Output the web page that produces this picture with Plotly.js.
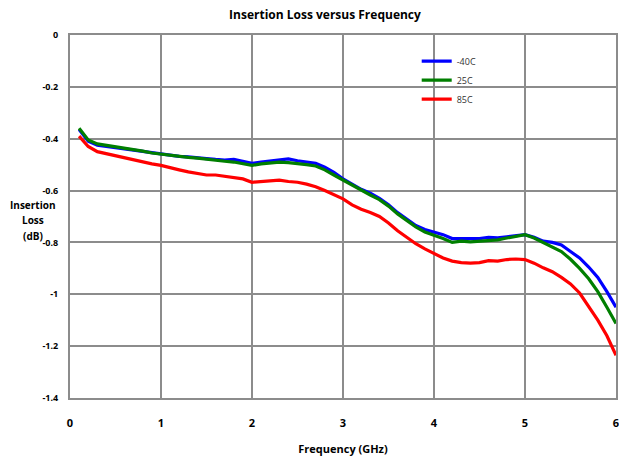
<!DOCTYPE html>
<html>
<head>
<meta charset="utf-8">
<script src="https://cdn.plot.ly/plotly-3.0.1.min.js"></script>
<style>html,body{margin:0;padding:0;background:#fff;}#chart{width:619px;height:460px;}</style>
</head>
<body>
<div id="chart"></div>
<script>
const freqGHz = [0.1,0.2,0.3,0.4,0.5,0.6,0.7,0.8,0.9,1.0,1.1,1.2,1.3,1.4,1.5,1.6,1.7,1.8,1.9,2.0,2.1,2.2,2.3,2.4,2.5,2.6,2.7,2.8,2.9,3.0,3.1,3.2,3.3,3.4,3.5,3.6,3.7,3.8,3.9,4.0,4.1,4.2,4.3,4.4,4.5,4.6,4.7,4.8,4.9,5.0,5.1,5.2,5.3,5.4,5.5,5.6,5.7,5.8,5.9,6.0];

const lossM40C = [-0.365,-0.41,-0.425,-0.43,-0.435,-0.44,-0.445,-0.45,-0.455,-0.46,-0.463,-0.468,-0.47,-0.472,-0.477,-0.48,-0.482,-0.48,-0.488,-0.495,-0.49,-0.485,-0.482,-0.478,-0.485,-0.49,-0.495,-0.51,-0.53,-0.555,-0.575,-0.595,-0.61,-0.63,-0.655,-0.685,-0.71,-0.735,-0.75,-0.76,-0.77,-0.785,-0.785,-0.787,-0.785,-0.78,-0.782,-0.778,-0.775,-0.77,-0.78,-0.795,-0.80,-0.81,-0.835,-0.86,-0.895,-0.935,-0.99,-1.05];

const loss25C = [-0.36,-0.405,-0.42,-0.425,-0.43,-0.437,-0.442,-0.448,-0.455,-0.46,-0.465,-0.468,-0.472,-0.475,-0.48,-0.483,-0.487,-0.49,-0.495,-0.503,-0.497,-0.493,-0.49,-0.492,-0.495,-0.5,-0.505,-0.52,-0.54,-0.56,-0.58,-0.6,-0.617,-0.635,-0.66,-0.69,-0.715,-0.74,-0.76,-0.772,-0.785,-0.8,-0.795,-0.798,-0.795,-0.79,-0.79,-0.783,-0.775,-0.77,-0.783,-0.8,-0.815,-0.835,-0.865,-0.9,-0.94,-0.99,-1.05,-1.113];

const loss85C = [-0.39,-0.43,-0.45,-0.458,-0.465,-0.475,-0.482,-0.49,-0.497,-0.503,-0.51,-0.52,-0.528,-0.535,-0.54,-0.54,-0.545,-0.548,-0.555,-0.568,-0.566,-0.565,-0.56,-0.565,-0.568,-0.575,-0.585,-0.6,-0.615,-0.632,-0.655,-0.672,-0.685,-0.7,-0.725,-0.755,-0.78,-0.805,-0.825,-0.843,-0.86,-0.872,-0.878,-0.88,-0.878,-0.87,-0.872,-0.866,-0.864,-0.866,-0.88,-0.898,-0.913,-0.935,-0.96,-0.995,-1.045,-1.1,-1.16,-1.235];

const seriesNames = ['-40C','25C','85C'];
const seriesColors = ['#0000ff','#007f00','#ff0000'];
const xTickVals = [0,1,2,3,4,5,6];
const yTickVals = [0,-0.2,-0.4,-0.6,-0.8,-1,-1.2,-1.4];
const yTickText = ['0','-0.2','-0.4','-0.6','-0.8','-1','-1.2','-1.4'];
const yTitleLines = ['Insertion','Loss','(dB)'];

const ys = [lossM40C, loss25C, loss85C];
const traces = ys.map((y,i)=>({
  x: freqGHz, y: y, type:'scatter', mode:'lines', name: seriesNames[i],
  line:{color: seriesColors[i], width:3.2}
}));

const font = "'Open Sans', 'Liberation Sans', sans-serif";
const layout = {
  width:619, height:460,
  margin:{l:70, r:3, t:35, b:62},
  paper_bgcolor:'#fff', plot_bgcolor:'#fff',
  showlegend:true,
  title:{text:'<b>Insertion Loss versus Frequency</b>', font:{family:font, size:12, color:'#000'}, x:0.525, xanchor:'center', y:0.968, yanchor:'middle'},
  xaxis:{range:[0,6], tickvals:xTickVals, ticktext:xTickVals.map(String),
    showgrid:true, gridcolor:'#8c8c8c', gridwidth:2, zeroline:false,
    showline:true, linecolor:'#8c8c8c', linewidth:2, mirror:true,
    ticks:'outside', ticklen:14, tickcolor:'rgba(0,0,0,0)', ticklabeloverflow:'allow',
    tickfont:{family:font, size:11, color:'#000', weight:'bold'},
    title:{text:'<b>Frequency (GHz)</b>', font:{family:font, size:11, color:'#000'}, standoff:16}},
  yaxis:{range:[-1.4,0], tickvals:yTickVals, ticktext:yTickText,
    showgrid:true, gridcolor:'#8c8c8c', gridwidth:2, zeroline:false,
    showline:true, linecolor:'#8c8c8c', linewidth:2, mirror:true,
    ticks:'outside', ticklen:8, tickcolor:'rgba(0,0,0,0)', ticklabeloverflow:'allow',
    tickfont:{family:font, size:9, color:'#000', weight:'bold'}},
  legend:{x:0.635, y:0.968, xanchor:'left', yanchor:'top', bgcolor:'rgba(0,0,0,0)',
    font:{family:font, size:9, color:'#333'}, tracegroupgap:0, itemwidth:30},
  annotations: yTitleLines.map((t,i)=>({xref:'paper', yref:'paper', x:-0.068, y:0.533 - i*0.044,
    xanchor:'center', yanchor:'middle', showarrow:false,
    text:'<b>'+t+'</b>', font:{family:font, size:10, color:'#000'}}))
};
Plotly.newPlot('chart', traces, layout, {displayModeBar:false, staticPlot:true});
</script>
</body>
</html>
